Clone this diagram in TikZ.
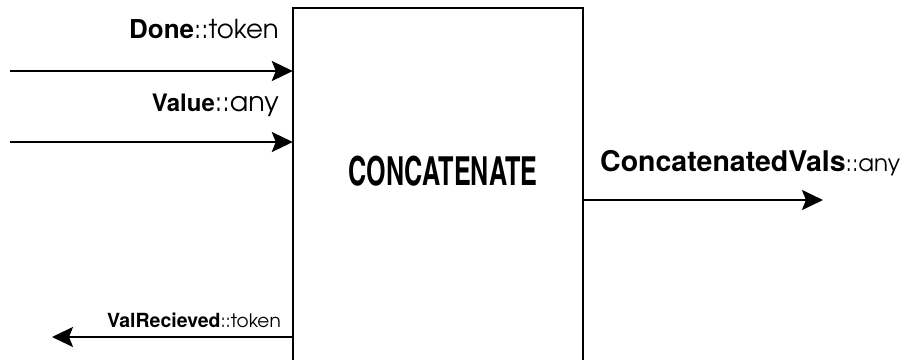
\documentclass[tikz,border=0pt]{standalone}
\usepackage{fontspec}
\usepackage{tikz}
\usetikzlibrary{arrows.meta,positioning,calc}
\newfontfamily\namefont{texgyreheros-bold.otf}
\newfontfamily\titlefont{texgyreheroscn-bold.otf}
\newfontfamily\typefont{texgyreadventor-regular.otf}
% #1 name size, #2 name, #3 type size, #4 type
\newcommand{\portlbl}[4]{{\namefont\fontsize{#1}{#1}\selectfont #2}{\typefont\fontsize{#3}{#3}\selectfont ::#4}}
\tikzset{
  block/.style   = {inner sep=0pt, minimum width=290pt, minimum height=352pt},
  portlab/.style = {inner sep=0pt, anchor=base east},
  sig/.style     = {-{Stealth[length=21pt, width=20pt, inset=4pt]}, line width=2.2pt},
}

\begin{document}
\begin{tikzpicture}[x=1pt, y=-1pt]
\useasboundingbox (0,0) rectangle (910,360);
% box, open at the bottom
\node[block] (cc) at (438,184) {};
\draw[line width=2.2pt] (cc.south west) -- (cc.north west) -- (cc.north east) -- (cc.south east);
\node[inner sep=0pt, font={\titlefont\fontsize{40}{40}\selectfont}] (ct) at (443,171)
  {\scalebox{0.77}[1]{CONCATENATE}};
% inputs
\node[portlab] (dn) at (279,38) {\portlbl{26}{Done}{26}{token}};
\node[portlab] (vl) at (279,111) {\portlbl{24}{Value}{27}{any}};
\coordinate (din) at (10,71);
\coordinate (vin) at (10,142);
\draw[sig] (din) -- (din -| cc.west);
\draw[sig] (vin) -- (vin -| cc.west);
% outputs
\node[portlab, anchor=base west] (cv) at (600,171) {\portlbl{28.5}{ConcatenatedVals}{23}{any}};
\coordinate (cout) at (823,200);
\draw[sig] (cout -| cc.east) -- (cout);
\node[portlab] (vr) at (281,327) {\portlbl{19.5}{ValRecieved}{18.5}{token}};
\coordinate (vrout) at (52,337);
\draw[sig] (vrout -| cc.west) -- (vrout);
\end{tikzpicture}
\end{document}
